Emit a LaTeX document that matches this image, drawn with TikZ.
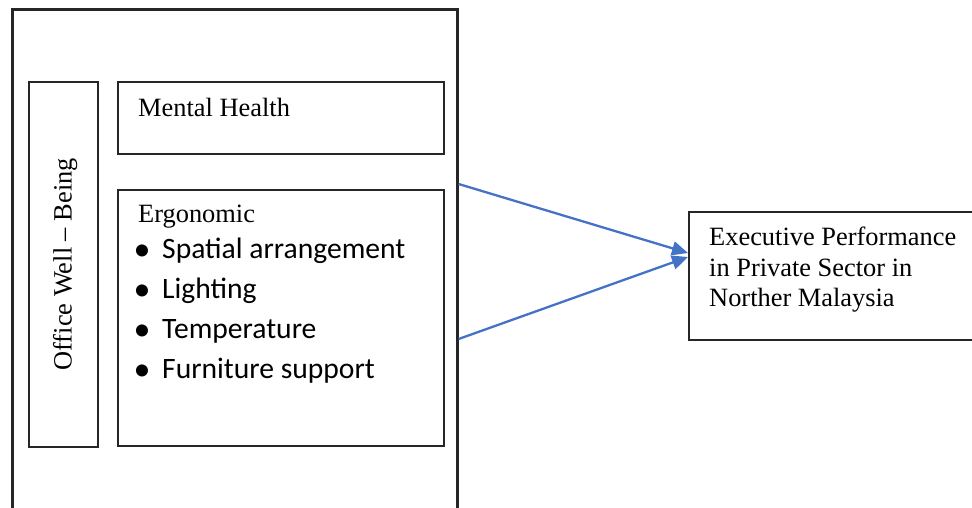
\documentclass[tikz,border=0pt]{standalone}
\usepackage{fontspec}
\setmainfont{Liberation Serif}
\newfontfamily\calfont{Carlito}
\usetikzlibrary{arrows.meta}
\definecolor{arrowblue}{HTML}{4472C4}
\tikzset{
  box/.style={draw=black!85, line width=1.6pt, anchor=north west, inner sep=0pt},
  serif/.style={font=\fontsize{26.4}{31}\selectfont, inner sep=0pt, anchor=base west},
  bul/.style={font=\calfont\fontsize{29.6}{40}\selectfont, inner sep=0pt, anchor=base west},
  dot/.style={font=\calfont\fontsize{34}{34}\selectfont, inner sep=0pt, anchor=base},
  link/.style={draw=arrowblue, line width=2.3pt, -{Triangle[length=16pt,width=14pt]}}
}
\begin{document}
\begin{tikzpicture}[x=1pt,y=-1pt]
\useasboundingbox (0,0) rectangle (972,508);
\clip (0,0) rectangle (972,508);
% outer frame
\node[box, line width=2.6pt, minimum width=445pt, minimum height=540pt] (outer) at (11,8) {};
% left vertical box
\node[box, minimum width=69pt, minimum height=365pt] (wb) at (28,81) {};
\node[serif, anchor=center, rotate=90, yshift=-2pt] (wbt) at (wb.center) {Office Well -- Being};
% mental health
\node[box, minimum width=326pt, minimum height=72pt] (mh) at (117,81) {};
\node[serif] (mht) at (138,117) {Mental Health};
% ergonomic
\node[box, minimum width=326pt, minimum height=256pt] (er) at (117,189) {};
\node[serif] (ert) at (138,222) {Ergonomic};
\node[dot] (d1) at (142,260.5) {•};
\node[dot] (d2) at (142,300.5) {•};
\node[dot] (d3) at (142,340.5) {•};
\node[dot] (d4) at (142,380.5) {•};
\node[bul] (b1) at (162,258) {Spatial arrangement};
\node[bul] (b2) at (162,298) {Lighting};
\node[bul] (b3) at (162,338) {Temperature};
\node[bul] (b4) at (162,378) {Furniture support};
% executive performance
\node[box, minimum width=310pt, minimum height=128pt] (ex) at (688,211) {};
\node[serif] (ex1) at (709,245) {Executive Performance};
\node[serif] (ex2) at (709,276) {in Private Sector in};
\node[serif] (ex3) at (709,306) {Norther Malaysia};
% connectors
\coordinate (s1) at (outer.east |- 0,184);
\coordinate (s2) at (outer.east |- 0,339);
\coordinate (t1) at (ex.west |- 0,253);
\coordinate (t2) at (ex.west |- 0,257);
\draw[link] (s1) -- (t1);
\draw[link] (s2) -- (t2);
\end{tikzpicture}
\end{document}
